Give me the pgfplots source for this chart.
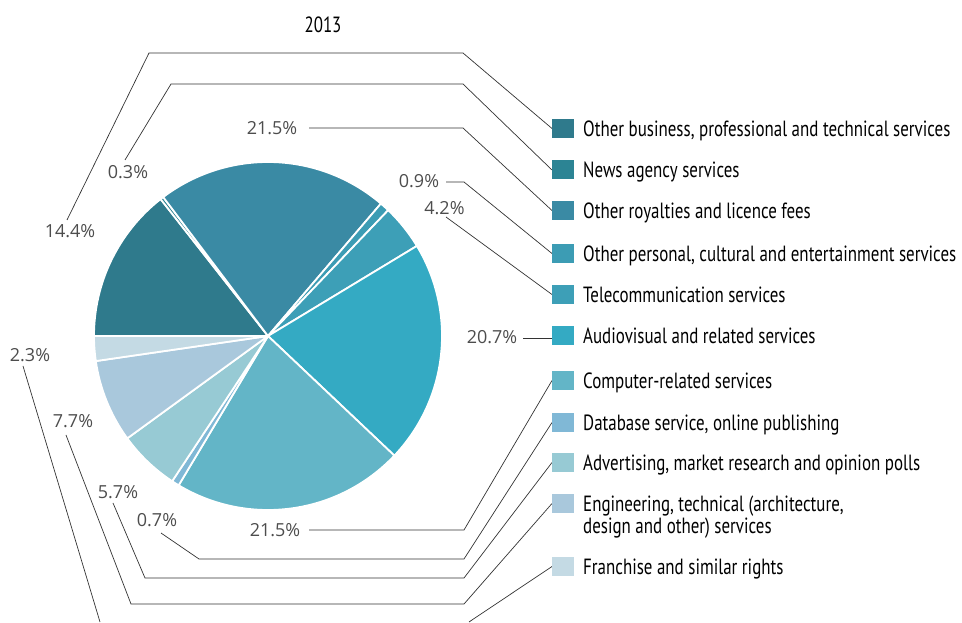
\documentclass[border=0pt]{standalone}
\usepackage{pgfplots}
\pgfplotsset{compat=1.18}
\usepackage{fontspec}
\setmainfont{PT Sans}
\newfontfamily\legfont[FakeStretch=0.77]{PT Sans}
\newfontfamily\pctfont{Open Sans}

\definecolor{c1}{HTML}{2F7A8C}
\definecolor{c2}{HTML}{2C8494}
\definecolor{c3}{HTML}{3A8AA4}
\definecolor{c4}{HTML}{3C9CB4}
\definecolor{c5}{HTML}{3D9FB7}
\definecolor{c6}{HTML}{34AAC3}
\definecolor{c7}{HTML}{63B5C7}
\definecolor{c8}{HTML}{80B8D6}
\definecolor{c9}{HTML}{97CAD4}
\definecolor{c10}{HTML}{A9C8DC}
\definecolor{c11}{HTML}{C4DAE4}
\definecolor{pctgray}{HTML}{4D4D4D}
\definecolor{leader}{HTML}{333333}

% pie centre and radius, in pixels of the page
\def\cx{268}\def\cy{336}\def\R{174}
\def\total{99.9}
\def\cum{0}
% one slice per call: share in percent, colour; clockwise from 180 deg
\newcommand\slice[2]{%
  \pgfmathsetmacro\sa{180-\cum*(360/\total)}%
  \pgfmathsetmacro\cum{\cum+#1}\xdef\cum{\cum}%
  \pgfmathsetmacro\sb{180-\cum*(360/\total)}%
  \edef\tmp{\noexpand\fill[#2,draw=white,line width=1.8pt,line join=round]
    (axis cs:\cx,\cy) -- ++(\sa:\R pt) arc[start angle=\sa,end angle=\sb,radius=\R pt] -- cycle;}%
  \tmp}
% legend entry: swatch centre y, colour, text
\newcommand\entry[3]{%
  \fill[#2] (axis cs:552,#1-9.5) rectangle (axis cs:574,#1+9.5);
  \node[anchor=base west,inner sep=0pt,font=\legfont\fontsize{22}{25}\selectfont,text=black]
    at (axis cs:583,#1+8) {#3};}
\newcommand\pct[3]{%
  \node[inner sep=0pt,font=\pctfont\fontsize{18}{20}\selectfont,text=pctgray] at (axis cs:#1,#2) {#3\%};}

\begin{document}
\begin{tikzpicture}
\begin{axis}[
  scale only axis,
  width=962pt, height=622pt,
  xmin=0, xmax=962, ymin=0, ymax=622,
  y dir=reverse,
  hide axis,
  clip=false,
]
\path (axis cs:0,0) rectangle (axis cs:962,622);

\slice{14.4}{c1}
\slice{0.3}{c2}
\slice{21.5}{c3}
\slice{0.9}{c4}
\slice{4.2}{c5}
\slice{20.7}{c6}
\slice{21.5}{c7}
\slice{0.7}{c8}
\slice{5.7}{c9}
\slice{7.7}{c10}
\slice{2.3}{c11}

\node[font=\legfont\fontsize{22}{25}\selectfont,inner sep=0pt] at (axis cs:323,24.5) {2013};

% leader lines
\begin{scope}[leader, line width=0.7pt]
\draw (axis cs:67,220) -- (axis cs:149,53) -- (axis cs:463,53) -- (axis cs:552,128.5);
\draw (axis cs:125,160) -- (axis cs:171,84) -- (axis cs:463,84) -- (axis cs:552,170);
\draw (axis cs:309,128) -- (axis cs:463,128) -- (axis cs:552,210.5);
\draw (axis cs:446,182) -- (axis cs:464,182) -- (axis cs:552,253.5);
\draw (axis cs:446,217) -- (axis cs:552,294.5);
\draw (axis cs:523,338) -- (axis cs:552,338);
\draw (axis cs:309,530) -- (axis cs:464,530) -- (axis cs:552,380.5);
\draw (axis cs:161,533) -- (axis cs:199,559) -- (axis cs:464,559) -- (axis cs:552,422.5);
\draw (axis cs:113,503) -- (axis cs:145,578) -- (axis cs:464,578) -- (axis cs:552,462.5);
\draw (axis cs:66,435) -- (axis cs:131,604) -- (axis cs:464,604) -- (axis cs:552,503.5);
\draw (axis cs:23,366) -- (axis cs:100,622);
\draw (axis cs:552,566.5) -- (axis cs:469,622);
\end{scope}

\pct{70}{231}{14.4}
\pct{128}{172}{0.3}
\pct{272}{128.5}{21.5}
\pct{419}{181}{0.9}
\pct{444.5}{208}{4.2}
\pct{492}{337.5}{20.7}
\pct{275}{530}{21.5}
\pct{157}{520}{0.7}
\pct{118}{492}{5.7}
\pct{73}{421}{7.7}
\pct{30}{355}{2.3}

\entry{128.5}{c1}{Other business, professional and technical services}
\entry{170}{c2}{News agency services}
\entry{210.5}{c3}{Other royalties and licence fees}
\entry{253.5}{c4}{Other personal, cultural and entertainment services}
\entry{294.5}{c5}{Telecommunication services}
\entry{336}{c6}{Audiovisual and related services}
\entry{380.5}{c7}{Computer-related services}
\entry{422.5}{c8}{Database service, online publishing}
\entry{462.5}{c9}{Advertising, market research and opinion polls}
\entry{503.5}{c10}{Engineering, technical (architecture,}
\node[anchor=base west,inner sep=0pt,font=\legfont\fontsize{22}{25}\selectfont,text=black]
  at (axis cs:583,534) {design and other) services};
\entry{566.5}{c11}{Franchise and similar rights}
\end{axis}
\end{tikzpicture}
\end{document}
